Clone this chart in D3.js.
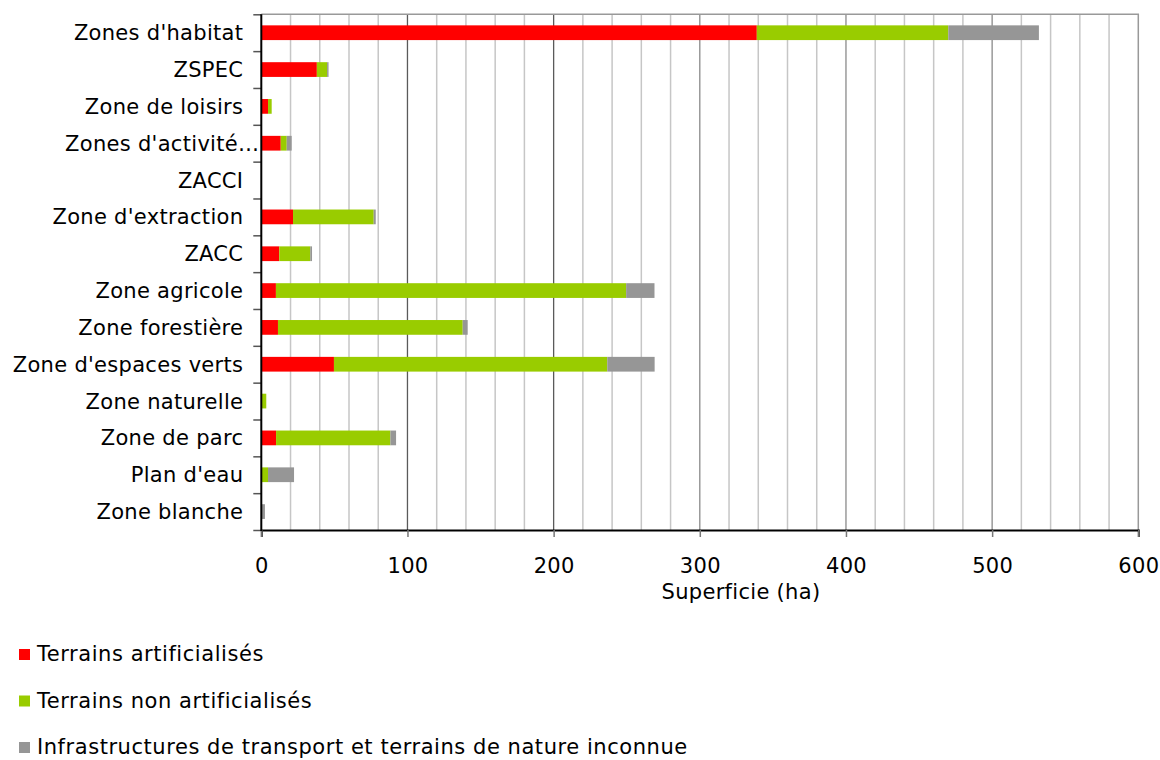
<!DOCTYPE html>
<html>
<head>
<meta charset="utf-8">
<script src="https://cdn.jsdelivr.net/npm/d3@7"></script>
<style>
  body { margin: 0; background: #fff; }
  text { font-family: "DejaVu Sans", Verdana, sans-serif; fill: #000; }
</style>
</head>
<body>
<div id="chart"></div>
<script>
var categories = ["Zones d'habitat", "ZSPEC", "Zone de loisirs", "Zones d'activit\u00e9\u2026", "ZACCI",
    "Zone d'extraction", "ZACC", "Zone agricole", "Zone foresti\u00e8re", "Zone d'espaces verts",
    "Zone naturelle", "Zone de parc", "Plan d'eau", "Zone blanche"];
var artificialises = [339, 38, 4.6, 13.3, 0, 21.7, 12.3, 10, 11.4, 49.7, 0, 10.1, 0, 0];
var nonArtificialises = [131, 7, 2.5, 4.1, 0, 55.2, 21.2, 239.6, 126.4, 187, 3.4, 78.2, 4.6, 0];
var infrastructures = [62, 1, 0, 3.4, 0, 1.4, 1.2, 19.4, 3.4, 32.4, 0, 3.9, 17.8, 2.5];
var seriesNames = ["Terrains artificialis\u00e9s", "Terrains non artificialis\u00e9s",
    "Infrastructures de transport et terrains de nature inconnue"];
var xTicks = [0, 100, 200, 300, 400, 500, 600];

function main() {
    var margin = { top: 14.3, right: 21.7, bottom: 230, left: 261.3 },
        width = 1160 - margin.left - margin.right,
        height = 760 - margin.top - margin.bottom;

    var colors = ["#ff0000", "#99cc00", "#969696"];

    var svg = d3.select("#chart")
        .append("svg")
        .attr("width", 1160)
        .attr("height", 760)
        .append("g")
        .attr("transform", "translate(" + margin.left + "," + margin.top + ")");

    var rows = categories.map((c, i) => ({
        cat: c, a: artificialises[i], n: nonArtificialises[i], t: infrastructures[i]
    }));
    var stacked = d3.stack().keys(["a", "n", "t"])(rows);

    var x = d3.scaleLinear().domain([0, 600]).range([0, width]);
    var y = d3.scaleBand()
        .domain(categories)
        .range([0, height])
        .paddingInner(0.6)
        .paddingOuter(0.3);
    var yIdx = d3.scaleLinear().domain([0, categories.length]).range([0, height]);

    // minor gridlines every 20
    svg.append("g")
        .selectAll("line")
        .data(d3.range(20, 600, 20).filter(v => v % 100 != 0))
        .enter().append("line")
        .attr("x1", d => x(d)).attr("x2", d => x(d))
        .attr("y1", 0).attr("y2", height)
        .style("stroke", "#c6c6c6")
        .style("stroke-width", 1.5)

    // major gridlines every 100
    svg.append("g")
        .selectAll("line")
        .data(xTicks.slice(1, -1))
        .enter().append("line")
        .attr("x1", d => x(d)).attr("x2", d => x(d))
        .attr("y1", 0).attr("y2", height)
        .style("stroke", d => d < 300 ? "#5a5a5a" : "#8a8a8a")
        .style("stroke-width", 1.3)

    // top and right border
    svg.append("path")
        .attr("d", "M0,0H" + width + "V" + height)
        .style("fill", "none")
        .style("stroke", "#999")
        .style("stroke-width", 1.5)

    // bars
    svg.selectAll("g.serie")
        .data(stacked)
        .enter().append("g")
        .attr("class", "serie")
        .style("fill", (d, i) => colors[i])
        .selectAll("rect")
        .data(d => d)
        .enter().append("rect")
        .attr("x", d => x(d[0]))
        .attr("width", d => x(d[1]) - x(d[0]))
        .attr("y", d => y(d.data.cat))
        .attr("height", y.bandwidth())

    // y ticks at band boundaries
    var yTicks = svg.append("g")
        .call(d3.axisLeft(yIdx).tickValues(d3.range(0, categories.length + 1)).tickSize(8).tickFormat(""))
    yTicks.select(".domain").remove()
    yTicks.selectAll("line").style("stroke", "#555").style("stroke-width", 1.5)

    // category labels
    var yAxis = svg.append("g")
        .call(d3.axisLeft(y).tickSize(0).tickPadding(18))
    yAxis.select(".domain").remove()
    yAxis.selectAll("text")
        .style("font-size", "21px")
        .style("letter-spacing", "0.3px")
        .style("font-family", "'DejaVu Sans', Verdana, sans-serif")
        .attr("dy", "0.36em")
        .attr("dx", d => d.endsWith("\u2026") ? 16 : 0)

    // x axis
    var xAxis = svg.append("g")
        .attr("transform", "translate(0," + height + ")")
        .call(d3.axisBottom(x).tickValues(xTicks).tickSize(7).tickPadding(21))
    xAxis.select(".domain").style("stroke", "#000").style("stroke-width", 2)
    xAxis.selectAll("line").style("stroke", "#777").style("stroke-width", 1.5)
    xAxis.selectAll("text")
        .style("font-size", "21px")
        .style("letter-spacing", "0.3px")
        .style("font-family", "'DejaVu Sans', Verdana, sans-serif")

    // left axis line
    svg.append("line")
        .attr("x1", 0).attr("x2", 0)
        .attr("y1", 0).attr("y2", height + 1)
        .style("stroke", "#000")
        .style("stroke-width", 2)

    svg.append("text")
        .attr("x", 741 - margin.left)
        .attr("y", height + 69)
        .attr("text-anchor", "middle")
        .style("font-size", "21px")
        .style("letter-spacing", "0.3px")
        .text("Superficie (ha)")

    // legend
    var legend = d3.select("svg").append("g")
        .selectAll("g")
        .data(seriesNames)
        .enter().append("g")
        .attr("transform", (d, i) => "translate(0," + (661 + i * 46.5) + ")")
    legend.append("rect")
        .attr("x", 19).attr("y", -12)
        .attr("width", 11).attr("height", 11)
        .style("fill", (d, i) => colors[i])
    legend.append("text")
        .attr("x", 37)
        .attr("y", 0)
        .style("font-size", "21px")
        .style("letter-spacing", "0.55px")
        .text(d => d)
}

main();
</script>
</body>
</html>
